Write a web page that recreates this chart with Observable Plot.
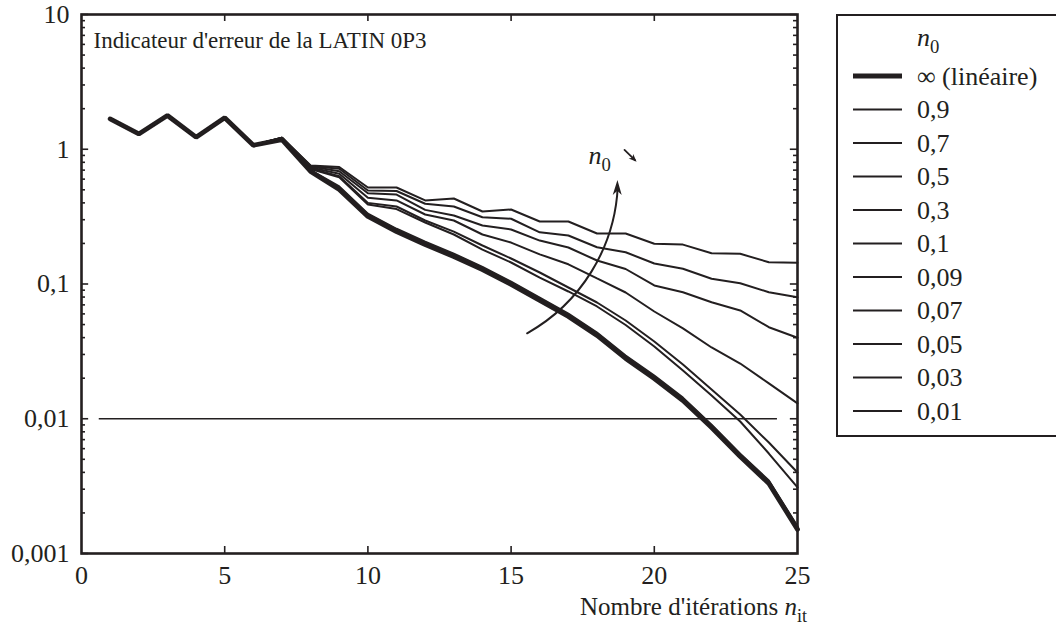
<!DOCTYPE html>
<html><head><meta charset="utf-8">
<script src="https://cdn.jsdelivr.net/npm/d3@7"></script>
<script src="https://cdn.jsdelivr.net/npm/@observablehq/plot@0.6"></script>
<style>
html,body{margin:0;padding:0;background:#fff;}
#chart{position:relative;width:1056px;height:628px;overflow:hidden;}
</style></head><body><div id="chart"></div>
<script>
// ---------- data ----------
const iterations = [1,2,3,4,5,6,7,8,9,10,11,12,13,14,15,16,17,18,19,20,21,22,23,24,25];
const seriesNames = ["∞ (linéaire)","0,9","0,7","0,5","0,3","0,1","0,09","0,07","0,05","0,03","0,01"];
const errInf = [1.68,1.30,1.78,1.23,1.71,1.07,1.18,0.684,0.503,0.317,0.245,0.196,0.160,0.128,0.0992,0.0754,0.0574,0.0415,0.0280,0.0199,0.01366,0.00861,0.00525,0.00331,0.00151];
const err09  = [1.68,1.30,1.78,1.23,1.71,1.07,1.18,0.687,0.508,0.320,0.247,0.198,0.162,0.129,0.1002,0.0762,0.0580,0.0419,0.0283,0.0201,0.0138,0.0087,0.0053,0.00334,0.00153];
const err07  = [1.68,1.30,1.78,1.23,1.71,1.07,1.18,0.690,0.513,0.323,0.250,0.200,0.163,0.131,0.1012,0.0769,0.0585,0.0423,0.0286,0.0203,0.01393,0.00878,0.00536,0.00338,0.00154];
const err05  = [1.68,1.30,1.78,1.23,1.71,1.07,1.19,0.695,0.521,0.328,0.254,0.203,0.166,0.132,0.1027,0.0780,0.0594,0.0430,0.0290,0.0206,0.01414,0.00891,0.00543,0.00343,0.00156];
const err03  = [1.68,1.30,1.78,1.23,1.71,1.07,1.19,0.700,0.530,0.333,0.257,0.206,0.168,0.134,0.104,0.0792,0.0603,0.0436,0.0294,0.0209,0.01434,0.00904,0.00551,0.00348,0.00159];
const err01  = [1.68,1.30,1.78,1.23,1.71,1.07,1.21,0.714,0.620,0.389,0.360,0.286,0.233,0.180,0.1444,0.1117,0.0880,0.0681,0.0496,0.0344,0.0228,0.01488,0.00954,0.00552,0.00309];
const err009 = [1.68,1.30,1.78,1.23,1.71,1.07,1.21,0.720,0.631,0.400,0.376,0.296,0.245,0.193,0.1546,0.1217,0.0942,0.0729,0.0536,0.0374,0.0253,0.0165,0.01075,0.00666,0.00399];
const err007 = [1.68,1.30,1.78,1.23,1.71,1.07,1.22,0.732,0.657,0.436,0.417,0.328,0.296,0.233,0.203,0.166,0.140,0.110,0.0865,0.0625,0.0468,0.0338,0.0257,0.0183,0.0130];
const err005 = [1.68,1.30,1.78,1.23,1.71,1.07,1.22,0.745,0.687,0.472,0.461,0.355,0.322,0.272,0.254,0.210,0.1866,0.1494,0.1292,0.0975,0.0869,0.0732,0.0636,0.0478,0.0399];
const err003 = [1.68,1.30,1.78,1.23,1.71,1.07,1.22,0.751,0.716,0.494,0.490,0.394,0.376,0.313,0.305,0.242,0.229,0.1875,0.172,0.142,0.1297,0.1093,0.1014,0.0869,0.0798];
const err001 = [1.68,1.30,1.78,1.23,1.71,1.07,1.22,0.758,0.739,0.520,0.520,0.417,0.431,0.345,0.357,0.291,0.291,0.237,0.237,0.199,0.196,0.169,0.1675,0.145,0.1436];
const seriesValues = [errInf,err09,err07,err05,err03,err01,err009,err007,err005,err003,err001];

const xTickValues = [0,5,10,15,20,25];
const xTickLabels = ["0","5","10","15","20","25"];
const yTickValues = [0.001,0.01,0.1,1,10];
const yTickLabels = ["0,001","0,01","0,1","1","10"];
const yMinorTicks = [2,3,4,5,6,7,8,9].flatMap(m => [0.001,0.01,0.1,1].map(d => m*d));
const thresholdValue = 0.01;
const thresholdSpan = [0.62, 24.3];
const titleText = "Indicateur d'erreur de la LATIN 0P3";
const xLabelMain = "Nombre d'itérations ";
// annotation arrows (data coordinates)
const trendArrow = [{x1:15.56, y1:0.0431, x2:18.73, y2:0.586}];
const smallArrow = [{x1:18.96, y1:0.99, x2:19.4, y2:0.80}];
const n0LabelPos = {x:17.72, y:0.77};

// ---------- layout ----------
const W = 1056, H = 628;
const mL = 81, mR = 259, mT = 14, mB = 75;
const INK = "#231f20";
const FONT = "'Liberation Serif','Times New Roman',Times,serif";
const FS = 26;
const BEND = -30;

const rows = seriesNames.flatMap((name, k) =>
  iterations.map((it, i) => ({series: name, it, v: seriesValues[k][i]})));
const isThick = d => d.series === seriesNames[0];

const tickLenX = 0.25, minorLenX = 0.14;      // iterations units for y-ticks
const tickFacY = Math.pow(10, 7/134.75);       // factor for x-ticks length

const plot = Plot.plot({
  width: W, height: H,
  marginLeft: mL, marginRight: mR, marginTop: mT, marginBottom: mB,
  style: {fontFamily: FONT, fontSize: FS + "px", color: INK, background: "white"},
  x: {domain: [0, 25]},
  y: {type: "log", domain: [0.001, 10]},
  marks: [
    Plot.ruleY([thresholdValue], {x1: thresholdSpan[0], x2: thresholdSpan[1], stroke: INK, strokeWidth: 1.3}),
    Plot.line(rows.filter(isThick), {x: "it", y: "v", z: "series", stroke: INK, strokeWidth: 4.8, strokeLinejoin: "miter"}),
    Plot.line(rows.filter(d => !isThick(d)), {x: "it", y: "v", z: "series", stroke: INK, strokeWidth: 2, strokeLinejoin: "miter"}),
    Plot.axisX({ticks: xTickValues, tickSize: 0, tickPadding: 12, label: null,
      tickFormat: d => xTickLabels[xTickValues.indexOf(d)], fill: INK}),
    Plot.axisY({ticks: yTickValues, tickSize: 0, tickPadding: 12, label: null,
      tickFormat: d => yTickLabels[yTickValues.indexOf(d)], fill: INK}),
    // inward ticks
    Plot.ruleY(yTickValues, {x1: 0, x2: tickLenX, stroke: INK, strokeWidth: 1.6}),
    Plot.ruleY(yMinorTicks, {x1: 0, x2: minorLenX, stroke: INK, strokeWidth: 1.6}),
    Plot.ruleY(yTickValues, {x1: 25 - tickLenX, x2: 25, stroke: INK, strokeWidth: 1.6}),
    Plot.ruleY(yMinorTicks, {x1: 25 - minorLenX, x2: 25, stroke: INK, strokeWidth: 1.6}),
    Plot.ruleX(xTickValues.slice(1, -1), {y1: 0.001, y2: 0.001 * tickFacY, stroke: INK, strokeWidth: 1.6}),
    Plot.ruleX(xTickValues.slice(1, -1), {y1: 10 / tickFacY, y2: 10, stroke: INK, strokeWidth: 1.6}),
    Plot.frame({stroke: INK, strokeWidth: 2.6}),
    Plot.text([titleText], {frameAnchor: "top-left", dx: 12, dy: 17, textAnchor: "start", lineAnchor: "top", fontSize: 23, fill: INK}),
    Plot.arrow(trendArrow, {x1: "x1", y1: "y1", x2: "x2", y2: "y2", bend: BEND, stroke: INK, strokeWidth: 2, headLength: 0, insetEnd: 6}),
    Plot.arrow(smallArrow, {x1: "x1", y1: "y1", x2: "x2", y2: "y2", stroke: INK, strokeWidth: 1.8, headLength: 0, insetEnd: 3})
  ]
});

document.getElementById("chart").appendChild(plot);
const svg = d3.select(plot);
const sx = plot.scale("x").apply, sy = plot.scale("y").apply;

// filled arrowheads
function head(a, bendDeg, len, half) {
  const x1 = sx(a.x1), y1 = sy(a.y1), x2 = sx(a.x2), y2 = sy(a.y2);
  const ang = Math.atan2(y2 - y1, x2 - x1) + bendDeg * Math.PI / 180;
  const ux = Math.cos(ang), uy = Math.sin(ang), px = -uy, py = ux;
  const bx = x2 - ux * len, by = y2 - uy * len;
  const cx = x2 - ux * len * 0.72, cy = y2 - uy * len * 0.72;
  svg.append("path")
    .attr("d", `M${x2},${y2}L${bx + px * half},${by + py * half}L${cx},${cy}L${bx - px * half},${by - py * half}Z`)
    .attr("fill", INK);
}
head(trendArrow[0], BEND, 15, 4.5);
head(smallArrow[0], 0, 8, 3.2);

function rich(parent, x, y, parts, anchor, size) {
  const t = parent.append("text").attr("x", x).attr("y", y)
    .attr("text-anchor", anchor || "start").attr("font-family", FONT)
    .attr("font-size", size).attr("fill", INK);
  parts.forEach(p => {
    const ts = t.append("tspan").text(p.t);
    if (p.i) ts.attr("font-style", "italic");
    if (p.sub) ts.attr("font-size", size * 0.72).attr("dy", size * 0.28);
  });
  return t;
}

// n0 annotation near the arrow
rich(svg, sx(n0LabelPos.x), sy(n0LabelPos.y), [{t: "n", i: true}, {t: "0", sub: true}], "start", FS);
// x axis label
rich(svg, 807, 615, [{t: xLabelMain}, {t: "n", i: true}, {t: "it", sub: true}], "end", 25);

// legend
const lg = svg.append("g");
const boxX = 837, boxY = 15, boxH = 421, rowY0 = 76, rowStep = 33.5;
lg.append("rect").attr("x", boxX).attr("y", boxY).attr("width", 260).attr("height", boxH)
  .attr("fill", "white").attr("stroke", INK).attr("stroke-width", 2);
rich(lg, 917, 46, [{t: "n", i: true}, {t: "0", sub: true}], "start", FS);
seriesNames.forEach((name, k) => {
  const y = rowY0 + k * rowStep;
  lg.append("line").attr("x1", 853).attr("x2", 902).attr("y1", y).attr("y2", y)
    .attr("stroke", INK).attr("stroke-width", k === 0 ? 4.8 : 2);
  lg.append("text").attr("x", 917).attr("y", y).attr("dy", "0.33em").attr("text-anchor", "start")
    .attr("font-family", FONT).attr("font-size", FS).attr("fill", INK).text(name);
});
</script></body></html>
